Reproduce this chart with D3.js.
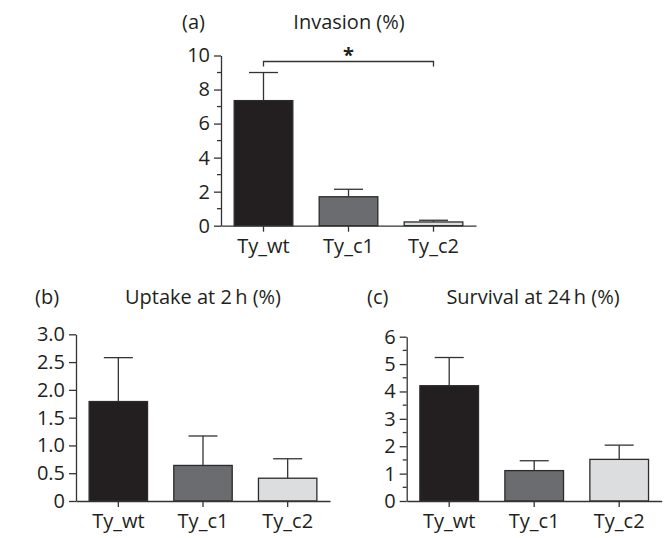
<!DOCTYPE html>
<html>
<head>
<meta charset="utf-8">
<script src="https://cdn.jsdelivr.net/npm/d3@7"></script>
<style>
  body { margin: 0; background: #fff; }
  svg text { font-family: "Open Sans", sans-serif; fill: #231f20; }
</style>
</head>
<body>
<div id="chart"></div>
<script>
// data
const categories = ["Ty_wt", "Ty_c1", "Ty_c2"];
const invasionMean = [7.35, 1.7, 0.22];
const invasionSd = [1.65, 0.44, 0.1];
const uptakeMean = [1.79, 0.64, 0.41];
const uptakeSd = [0.79, 0.53, 0.35];
const survivalMean = [4.21, 1.11, 1.52];
const survivalSd = [1.03, 0.36, 0.52];
const invasionTicks = [0, 2, 4, 6, 8, 10];
const uptakeTicks = [0, 0.5, 1.0, 1.5, 2.0, 2.5, 3.0];
const survivalTicks = [0, 1, 2, 3, 4, 5, 6];
const barColors = ["#231f20", "#6b6c6f", "#dcddde"];

const fontSize = "20px";

const svg = d3.select("#chart").append("svg")
    .attr("width", 668)
    .attr("height", 538);

function drawPanel(opt) {
  const x = d3.scaleBand()
      .domain(categories)
      .range(opt.xRange)
      .paddingInner(0.31)
      .paddingOuter(0.155);
  const y = d3.scaleLinear()
      .domain([0, opt.max])
      .range(opt.yRange);

  const g = svg.append("g");

  // y axis
  const yAxis = d3.axisLeft(y)
      .tickValues(opt.ticks)
      .tickFormat(opt.fmt)
      .tickSize(7)
      .tickPadding(4)
      .tickSizeOuter(0);
  const ya = g.append("g")
      .attr("transform", "translate(" + opt.xRange[0] + ",0)")
      .call(yAxis);
  ya.selectAll("text").style("font-size", fontSize);

  // minor ticks
  if (opt.minor) {
    g.selectAll("line.minor")
      .data(opt.minor)
      .enter().append("line")
        .attr("class", "minor")
        .attr("x1", opt.xRange[0] - 4)
        .attr("x2", opt.xRange[0])
        .attr("y1", d => y(d))
        .attr("y2", d => y(d));
  }

  // bars
  g.selectAll("rect.bar")
    .data(opt.mean)
    .enter().append("rect")
      .attr("class", "bar")
      .attr("x", (d, i) => x(categories[i]))
      .attr("width", x.bandwidth())
      .attr("y", d => y(d))
      .attr("height", d => y(0) - y(d))
      .attr("fill", (d, i) => barColors[i])
      .attr("stroke", "#2b2b2b")
      .attr("stroke-width", 1.3);

  // error bars (upper only)
  const cx = i => x(categories[i]) + x.bandwidth() / 2;
  g.selectAll("line.err")
    .data(opt.mean)
    .enter().append("line")
      .attr("class", "err")
      .attr("x1", (d, i) => cx(i))
      .attr("x2", (d, i) => cx(i))
      .attr("y1", d => y(d))
      .attr("y2", (d, i) => y(d + opt.sd[i]));
  g.selectAll("line.cap")
    .data(opt.mean)
    .enter().append("line")
      .attr("class", "cap")
      .attr("x1", (d, i) => cx(i) - 14.5)
      .attr("x2", (d, i) => cx(i) + 14.5)
      .attr("y1", (d, i) => y(d + opt.sd[i]))
      .attr("y2", (d, i) => y(d + opt.sd[i]));

  // x axis
  const xAxis = d3.axisBottom(x)
      .tickSize(6)
      .tickPadding(7)
      .tickSizeOuter(0);
  const xa = g.append("g")
      .attr("transform", "translate(0," + opt.yRange[0] + ")")
      .call(xAxis);
  xa.selectAll("text").style("font-size", fontSize);

  g.selectAll(".domain, .tick line, line.minor, line.err, line.cap")
      .attr("stroke", "#333")
      .attr("stroke-width", 1.3);

  // titles
  g.append("text")
      .attr("x", opt.labelX)
      .attr("y", opt.titleY)
      .style("font-size", fontSize)
      .text(opt.label);
  g.append("text")
      .attr("x", opt.titleX)
      .attr("y", opt.titleY)
      .attr("text-anchor", "middle")
      .style("font-size", fontSize)
      .text(opt.title);

  return { x: x, y: y, g: g, cx: cx };
}

const pa = drawPanel({
  mean: invasionMean, sd: invasionSd, max: 10, ticks: invasionTicks,
  minor: d3.range(1, 10, 2), fmt: d3.format("d"),
  xRange: [221, 476], yRange: [225.7, 55.5],
  label: "(a)", labelX: 182, title: "Invasion (%)", titleX: 349, titleY: 29
});

// significance bracket Ty_wt vs Ty_c2
const by = 61.5;
pa.g.append("path")
    .attr("d", "M" + pa.cx(0) + "," + (by + 5) + "V" + by + "H" + pa.cx(2) + "V" + (by + 5))
    .attr("fill", "none")
    .attr("stroke", "#333")
    .attr("stroke-width", 1.3);
pa.g.append("text")
    .attr("x", (pa.cx(0) + pa.cx(2)) / 2)
    .attr("y", by)
    .attr("text-anchor", "middle")
    .style("font-size", "20px")
    .style("font-weight", "bold")
    .text("*");

drawPanel({
  mean: uptakeMean, sd: uptakeSd, max: 3, ticks: uptakeTicks,
  minor: null, fmt: d => d === 0 ? "0" : d3.format(".1f")(d),
  xRange: [76, 330], yRange: [501, 334.3],
  label: "(b)", labelX: 35, title: "Uptake at 2\u2009h (%)", titleX: 203, titleY: 304
});

drawPanel({
  mean: survivalMean, sd: survivalSd, max: 6, ticks: survivalTicks,
  minor: d3.range(0.5, 6, 1), fmt: d3.format("d"),
  xRange: [406.7, 661.7], yRange: [501, 336.7],
  label: "(c)", labelX: 367, title: "Survival at 24\u2009h (%)", titleX: 533, titleY: 304
});
</script>
</body>
</html>
